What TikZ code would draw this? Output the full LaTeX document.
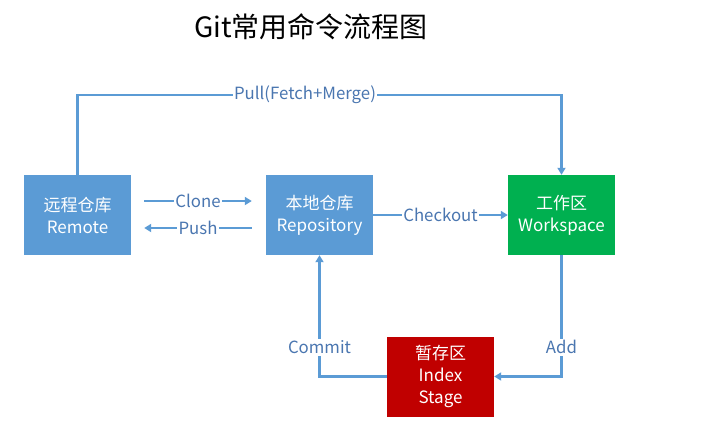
\documentclass[tikz,border=0pt]{standalone}
\usepackage{fontspec}
\setmainfont{Noto Sans CJK SC}
\usetikzlibrary{arrows.meta}
\definecolor{boxblue}{HTML}{5B9BD5}
\definecolor{boxgreen}{HTML}{00B050}
\definecolor{boxred}{HTML}{C00000}
\definecolor{lblblue}{HTML}{4A76B0}
\begin{document}
\begin{tikzpicture}[x=1pt,y=-1pt,
	repo/.style={fill=#1,text=white,minimum width=107pt,minimum height=80pt,align=center,font=\fontsize{17}{22}\selectfont,inner sep=0pt},
	flow/.style={draw=boxblue,line width=2.5pt,-{Triangle[width=8pt,length=7pt]}},
	lbl/.style={fill=white,text=lblblue,font=\fontsize{16.8}{18}\selectfont,inner sep=1.5pt}]
	\useasboundingbox (0,0) rectangle (723,432);
	\node (title) at (311,27) {\fontsize{28}{32}\selectfont Git常用命令流程图};
	
	\node (remote) [repo=boxblue] at (77.5,215) {远程仓库\\Remote};
	\node (local) [repo=boxblue] at (319.5,215) {本地仓库\\Repository};
	\node (work) [repo=boxgreen] at (561.5,215) {工作区\\Workspace};
	\node (stage) [repo=boxred] at (440.5,376.5) {暂存区\\Index\\Stage};
	
	\draw [flow] (remote.north) -- ++(0,-80) -| node [lbl,pos=0.235] {Pull(Fetch+Merge)} (work.north);
	\draw [flow] ([xshift=13pt,yshift=14pt]remote.east) -- node [lbl] {Clone} ([xshift=-14pt,yshift=14pt]local.west);
	\draw [flow] ([xshift=-14pt,yshift=-13pt]local.west) -- node [lbl] {Push} ([xshift=13pt,yshift=-13pt]remote.east);
	\draw [flow] (local.east) -- node [lbl,pos=0.5] {Checkout} (work.west);
	\draw [flow] (work.south) |- node [lbl,pos=0.38] {Add} (stage.east);
	\draw [flow] (stage.west) -| node [lbl,pos=0.62] {Commit} (local.south);
\end{tikzpicture}
\end{document}
